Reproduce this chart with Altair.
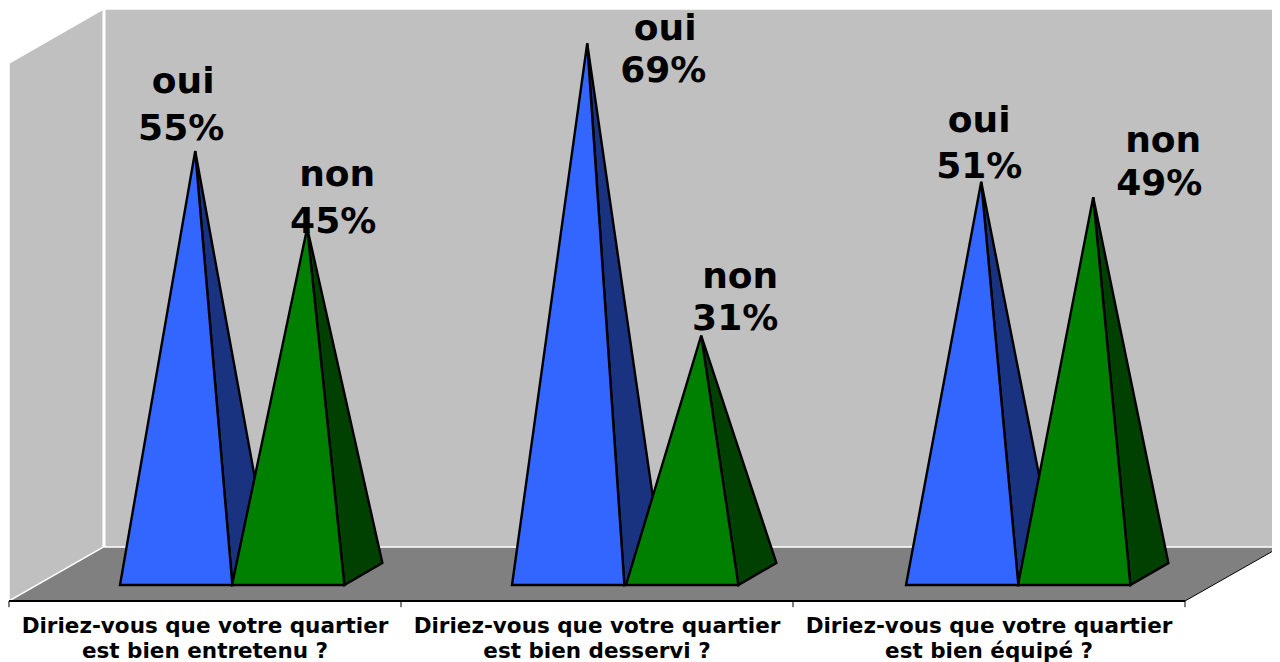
import altair as alt
import pandas as pd

questions = [
    ["Diriez-vous que votre quartier", "est bien entretenu ?"],
    ["Diriez-vous que votre quartier", "est bien desservi ?"],
    ["Diriez-vous que votre quartier", "est bien équipé ?"],
]
oui = [55, 69, 51]
non = [45, 31, 49]

# Scale geometry: x in category steps, y in percent
X_DOMAIN = [-0.00255, 3.2219]
Y_DOMAIN = [-11.44, 73.6]
STEP_PX = 392
PCT_PX = 7.69
W = 0.2866          # pyramid width
DX = 0.097          # pyramid depth, x
DP = 1.43           # pyramid half depth, y
FLOOR = -3.51
ROOM_DX = 0.2423
ROOM_DP = 7.02
TOP = 73.47
starts_oui = [0.2832, 0.2832, 0.2883]
starts_non = [0.5689, 0.5740, 0.5740]

# label offsets from the apex, px: (first line dx, dy, second line dx, dy)
off_oui = [(-12, -58, -14, -11), (78, -3, 76, 39), (-2, -50, -2, -4)]
off_non = [(30, -42, 26, 5), (39, -48, 34, -6), (70, -45, 66, -2)]


def poly(rows, pid, color):
    return [dict(x=a, y=b, y2=c, pid=pid, color=color) for a, b, c in rows]


def front(x0, value, pid, color):
    ax = x0 + W / 2 + DX / 2
    return poly([(x0, -DP, -DP), (ax, value, -DP), (x0 + W, -DP, -DP)], pid, color)


def side(x0, value, pid, color):
    ax = x0 + W / 2 + DX / 2
    fr = x0 + W
    bx = fr + DX
    t = (fr - ax) / (bx - ax)
    edge = value + t * (DP - value)
    return poly([(ax, value, value), (fr, edge, -DP), (bx, DP, DP)], pid, color)


blue_side, blue_front, green_side, green_front, labels = [], [], [], [], []
for i in range(3):
    x_oui = i + starts_oui[i]
    x_non = i + starts_non[i]
    blue_side += side(x_oui, oui[i], f"b{i}", "#1A3380")
    blue_front += front(x_oui, oui[i], f"b{i}", "#3366FF")
    green_side += side(x_non, non[i], f"g{i}", "#004000")
    green_front += front(x_non, non[i], f"g{i}", "#008000")
    for x0, v, name, o in ((x_oui, oui[i], "oui", off_oui[i]), (x_non, non[i], "non", off_non[i])):
        ax = x0 + W / 2 + DX / 2
        labels.append(dict(x=ax + o[0] / STEP_PX, y=v - o[1] / PCT_PX, t=name))
        labels.append(dict(x=ax + o[2] / STEP_PX, y=v - o[3] / PCT_PX, t=f"{v}%"))

x_enc = alt.X("x:Q", scale=alt.Scale(domain=X_DOMAIN, nice=False, zero=False), axis=None)
y_enc = alt.Y("y:Q", scale=alt.Scale(domain=Y_DOMAIN, nice=False, zero=False), axis=None)
col = alt.Color("color:N", scale=None)


def area(rows, **kw):
    return alt.Chart(pd.DataFrame(rows)).mark_area(**kw).encode(
        x=x_enc, y=y_enc, y2="y2:Q", color=col, detail="pid:N"
    )


floor = area(poly([
    (0, FLOOR, FLOOR),
    (ROOM_DX, FLOOR + ROOM_DP, FLOOR),
    (3, FLOOR + ROOM_DP, FLOOR),
    (3 + ROOM_DX, FLOOR + ROOM_DP, FLOOR + ROOM_DP),
], "floor", "#808080"))

side_wall = area(poly([
    (0, TOP - ROOM_DP, FLOOR),
    (ROOM_DX - 0.002, TOP, FLOOR + ROOM_DP),
], "side", "#C0C0C0"), stroke="white", strokeWidth=1.5)

back_wall = area(poly([
    (ROOM_DX + 0.002, TOP, FLOOR + ROOM_DP),
    (3 + ROOM_DX, TOP, FLOOR + ROOM_DP),
], "back", "#C0C0C0"), stroke="white", strokeWidth=1.5)

right_edge = alt.Chart(pd.DataFrame([
    dict(x=3, y=FLOOR), dict(x=3 + ROOM_DX, y=FLOOR + ROOM_DP)
])).mark_line(color="black", strokeWidth=1).encode(x=x_enc, y=y_enc)

front_edge = alt.Chart(pd.DataFrame([dict(x=0, x2=3, y=FLOOR)])).mark_rule(
    color="black", strokeWidth=2
).encode(x=x_enc, x2="x2:Q", y=y_enc)

ticks = alt.Chart(pd.DataFrame([dict(x=k, y=FLOOR, y2=FLOOR - 0.8) for k in range(4)])).mark_rule(
    color="black", strokeWidth=1
).encode(x=x_enc, y=y_enc, y2="y2:Q")

pyr = dict(stroke="black", strokeWidth=2.4, strokeJoin="miter", strokeMiterLimit=4)
layers = [floor, side_wall, back_wall, right_edge, front_edge, ticks,
          area(blue_side, **pyr), area(blue_front, **pyr),
          area(green_side, **pyr), area(green_front, **pyr)]

value_text = alt.Chart(pd.DataFrame(labels)).mark_text(
    font="DejaVu Sans", fontWeight="bold", fontSize=36, color="black", align="center", baseline="alphabetic"
).encode(x=x_enc, y=y_enc, text="t:N")

cat_rows = []
for i, lines in enumerate(questions):
    cat_rows.append(dict(x=i + 0.5, y=(574 - 633) / PCT_PX, t=lines[0]))
    cat_rows.append(dict(x=i + 0.5, y=(574 - 658) / PCT_PX, t=lines[1]))
cat_text = alt.Chart(pd.DataFrame(cat_rows)).mark_text(
    font="DejaVu Sans", fontWeight="bold", fontSize=21.5, color="black", align="center", baseline="alphabetic"
).encode(x=x_enc, y=y_enc, text="t:N")

chart = alt.layer(*layers, value_text, cat_text).properties(
    width=1264, height=654, padding=0, autosize=alt.AutoSizeParams(type="none"),
    background="white"
).configure_view(stroke=None)

chart.save("out.html", embed_options={"renderer": "svg", "actions": False})
